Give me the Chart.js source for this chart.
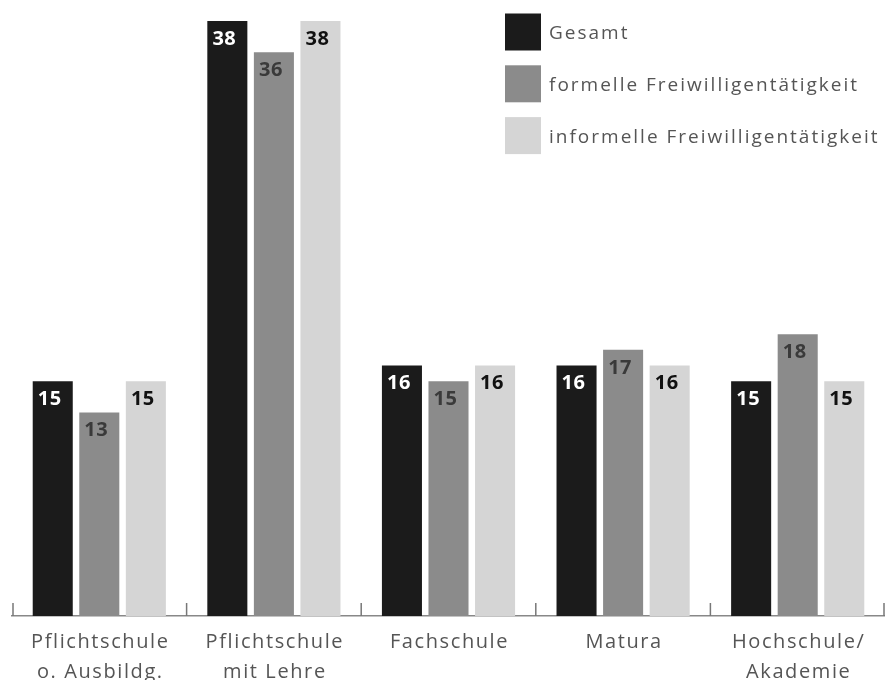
<!DOCTYPE html>
<html>
<head>
<meta charset="utf-8">
<script src="https://cdn.jsdelivr.net/npm/chart.js@4/dist/chart.umd.min.js"></script>
<style>
  html, body { margin: 0; padding: 0; background: #fff; overflow: hidden; }
  #wrap { position: relative; width: 885px; height: 680px; }
  #c { display: block; }
</style>
</head>
<body>
<div id="wrap"><canvas id="c" width="885" height="680"></canvas></div>
<script>
// Bildungsabschluss categories (multi-line labels)
const categories = [
  ['Pflichtschule', 'o. Ausbildg.'],
  ['Pflichtschule', 'mit Lehre'],
  'Fachschule',
  'Matura',
  ['Hochschule/', 'Akademie']
];
const seriesNames = ['Gesamt', 'formelle Freiwilligentätigkeit', 'informelle Freiwilligentätigkeit'];
const gesamt = [15, 38, 16, 16, 15];
const formell = [13, 36, 15, 17, 18];
const informell = [15, 38, 16, 16, 15];

const barColors = ['#1b1b1b', '#8b8b8b', '#d5d5d5'];
const valueColors = ['#ffffff', '#3a3a3a', '#111111'];
const FONT = '"Open Sans", "Noto Sans", sans-serif';

// value labels just inside the top of every bar
const valueLabels = {
  id: 'valueLabels',
  afterDatasetsDraw(chart) {
    const ctx = chart.ctx;
    ctx.save();
    ctx.letterSpacing = '0.5px';
    ctx.font = 'bold 20px ' + FONT;
    ctx.textAlign = 'center';
    ctx.textBaseline = 'middle';
    chart.data.datasets.forEach((ds, di) => {
      const meta = chart.getDatasetMeta(di);
      meta.data.forEach((bar, i) => {
        ctx.fillStyle = valueColors[di];
        ctx.fillText(String(ds.data[i]), bar.x - 3, bar.y + 18);
      });
    });
    ctx.restore();
  }
};

// category names under the axis, letter-spaced, one or two lines each
const categoryLabels = {
  id: 'categoryLabels',
  afterDraw(chart) {
    const x = chart.scales.x;
    const ctx = chart.ctx;
    ctx.save();
    ctx.font = '20px ' + FONT;
    ctx.letterSpacing = '1.6px';
    ctx.fillStyle = '#555';
    ctx.textAlign = 'center';
    ctx.textBaseline = 'alphabetic';
    chart.data.labels.forEach((lab, i) => {
      const lines = Array.isArray(lab) ? lab : [lab];
      const px = x.getPixelForTick(i) + 1;
      lines.forEach((line, k) => ctx.fillText(line, px, x.top + 32 + k * 30));
    });
    ctx.restore();
  }
};

// short upward ticks at the category boundaries
const boundaryTicks = {
  id: 'boundaryTicks',
  afterDraw(chart) {
    const x = chart.scales.x;
    const n = chart.data.labels.length;
    const half = (x.right - x.left) / (2 * n);
    const ctx = chart.ctx;
    ctx.save();
    ctx.strokeStyle = '#777';
    ctx.lineWidth = 1.5;
    for (let i = 0; i <= n; i++) {
      let px = i < n ? x.getPixelForTick(i) - half : x.getPixelForTick(n - 1) + half;
      px = Math.min(Math.max(px, x.left + 1), x.right - 1);
      ctx.beginPath();
      ctx.moveTo(px, x.top);
      ctx.lineTo(px, x.top - 13);
      ctx.stroke();
    }
    ctx.restore();
  }
};

// legend placed inside the plot, top right
const boxLegend = {
  id: 'boxLegend',
  afterDraw(chart) {
    const ctx = chart.ctx;
    ctx.save();
    ctx.font = '19px ' + FONT;
    ctx.letterSpacing = '2px';
    ctx.textBaseline = 'middle';
    ctx.textAlign = 'left';
    chart.data.datasets.forEach((ds, i) => {
      const y = 13.5 + i * 51.8;
      ctx.fillStyle = ds.backgroundColor;
      ctx.fillRect(505, y, 36, 37);
      ctx.fillStyle = '#555';
      ctx.fillText(ds.label, 549, y + 20);
    });
    ctx.restore();
  }
};

new Chart(document.getElementById('c'), {
  type: 'bar',
  data: {
    labels: categories,
    datasets: [
      { label: seriesNames[0], data: gesamt, backgroundColor: barColors[0] },
      { label: seriesNames[1], data: formell, backgroundColor: barColors[1] },
      { label: seriesNames[2], data: informell, backgroundColor: barColors[2] }
    ]
  },
  options: {
    responsive: false,
    animation: false,
    layout: { padding: { top: 21, left: 12, right: 0, bottom: 64 } },
    datasets: { bar: { categoryPercentage: 0.80, barPercentage: 0.86 } },
    plugins: { legend: { display: false }, tooltip: { enabled: false } },
    scales: {
      y: { display: false, min: 0, max: 38 },
      x: {
        grid: { display: false, drawTicks: false },
        border: { display: true, color: '#888', width: 1.5 },
        ticks: { display: false }
      }
    }
  },
  plugins: [valueLabels, categoryLabels, boundaryTicks, boxLegend]
});
</script>
</body>
</html>
